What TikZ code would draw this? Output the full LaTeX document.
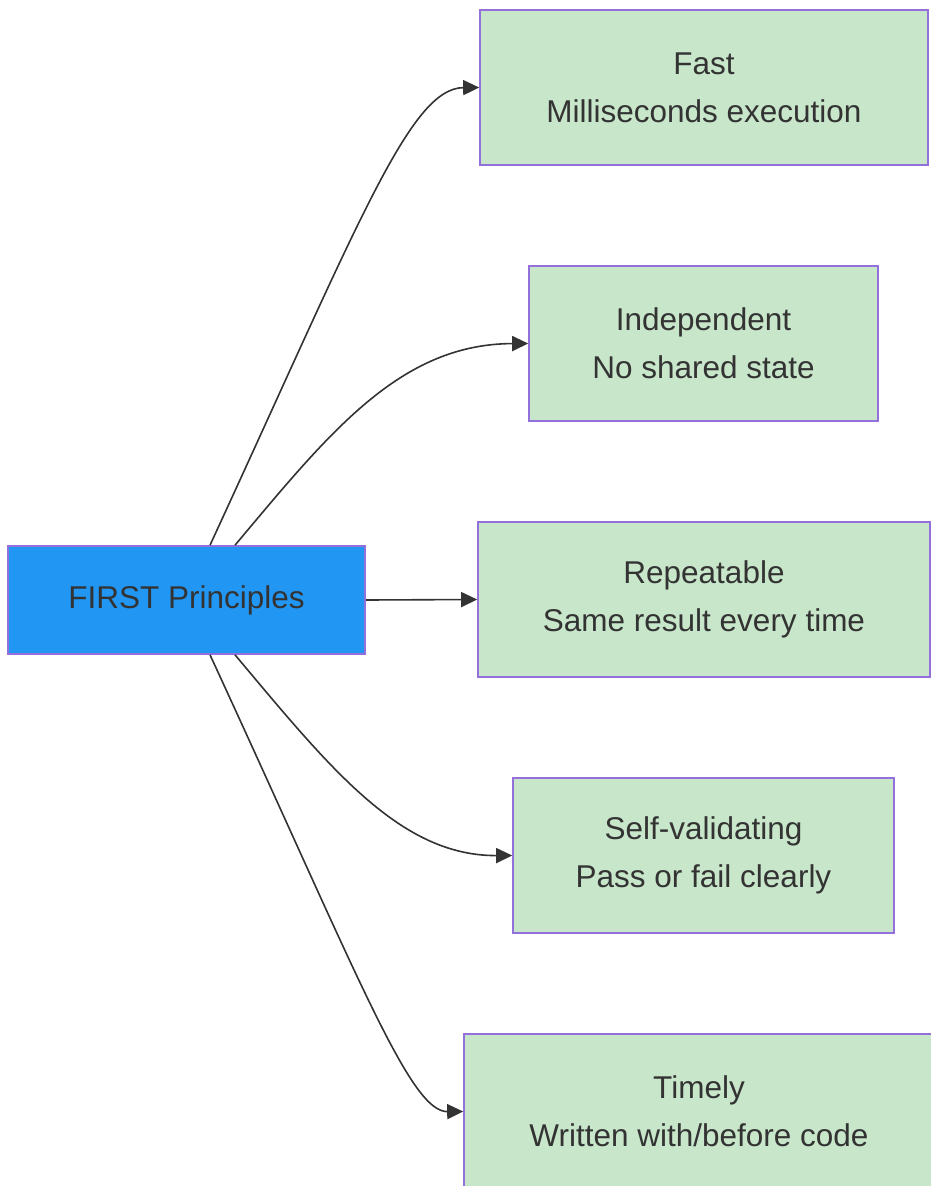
\documentclass[tikz,border=0pt]{standalone}
\usepackage{fontspec}
\setmainfont{Liberation Sans}
\usetikzlibrary{arrows.meta}
\definecolor{rootfill}{HTML}{2196F3}
\definecolor{leaffill}{HTML}{C8E6C9}
\definecolor{boxline}{HTML}{9370DB}
\definecolor{ink}{HTML}{333333}
\begin{document}
\begin{tikzpicture}[x=1pt,y=-1pt,
  box/.style={draw=boxline,line width=1.6pt,inner sep=0pt,align=center,
    text=ink,font=\fontsize{31.5}{48}\selectfont,minimum height=155pt},
  root/.style={box,fill=rootfill,minimum height=108pt,minimum width=357pt},
  leaf/.style={box,fill=leaffill},
  link/.style={draw=ink,line width=1.6pt,-{Triangle[length=16pt,width=15pt]}}]
\useasboundingbox (0,0) rectangle (931,1186);
\clip (0,0) rectangle (931,1186);

% principle boxes
\node[root] (first) at (186.5,600) {FIRST Principles};
\node[leaf,minimum width=448pt] (fast)  at (704,87.5)    {Fast\\Milliseconds execution};
\node[leaf,minimum width=349pt] (indep) at (703.5,343.5) {Independent\\No shared state};
\node[leaf,minimum width=452pt] (rep)   at (704,599.5)   {Repeatable\\Same result every time};
\node[leaf,minimum width=381pt] (self)  at (703.5,855.5) {Self-validating\\Pass or fail clearly};
\node[leaf,minimum width=470pt] (time)  at (699,1111.5)  {Timely\\Written with/before code};

% edge start points on the root box
\coordinate (t1) at ([xshift=23.5pt]first.north);
\coordinate (t2) at ([xshift=48.5pt]first.north);
\coordinate (b1) at ([xshift=23.5pt]first.south);
\coordinate (b2) at ([xshift=48.5pt]first.south);

% connectors
\draw[link] (t1) .. controls (360,220) and (410,88) .. (fast.west);
\draw[link] (t2) .. controls (330,432) and (400,344) .. (indep.west);
\draw[link] (first.east) -- (rep.west);
\draw[link] (b2) .. controls (330,768) and (400,856) .. (self.west);
\draw[link] (b1) .. controls (360,980) and (410,1112) .. (time.west);
\end{tikzpicture}
\end{document}
